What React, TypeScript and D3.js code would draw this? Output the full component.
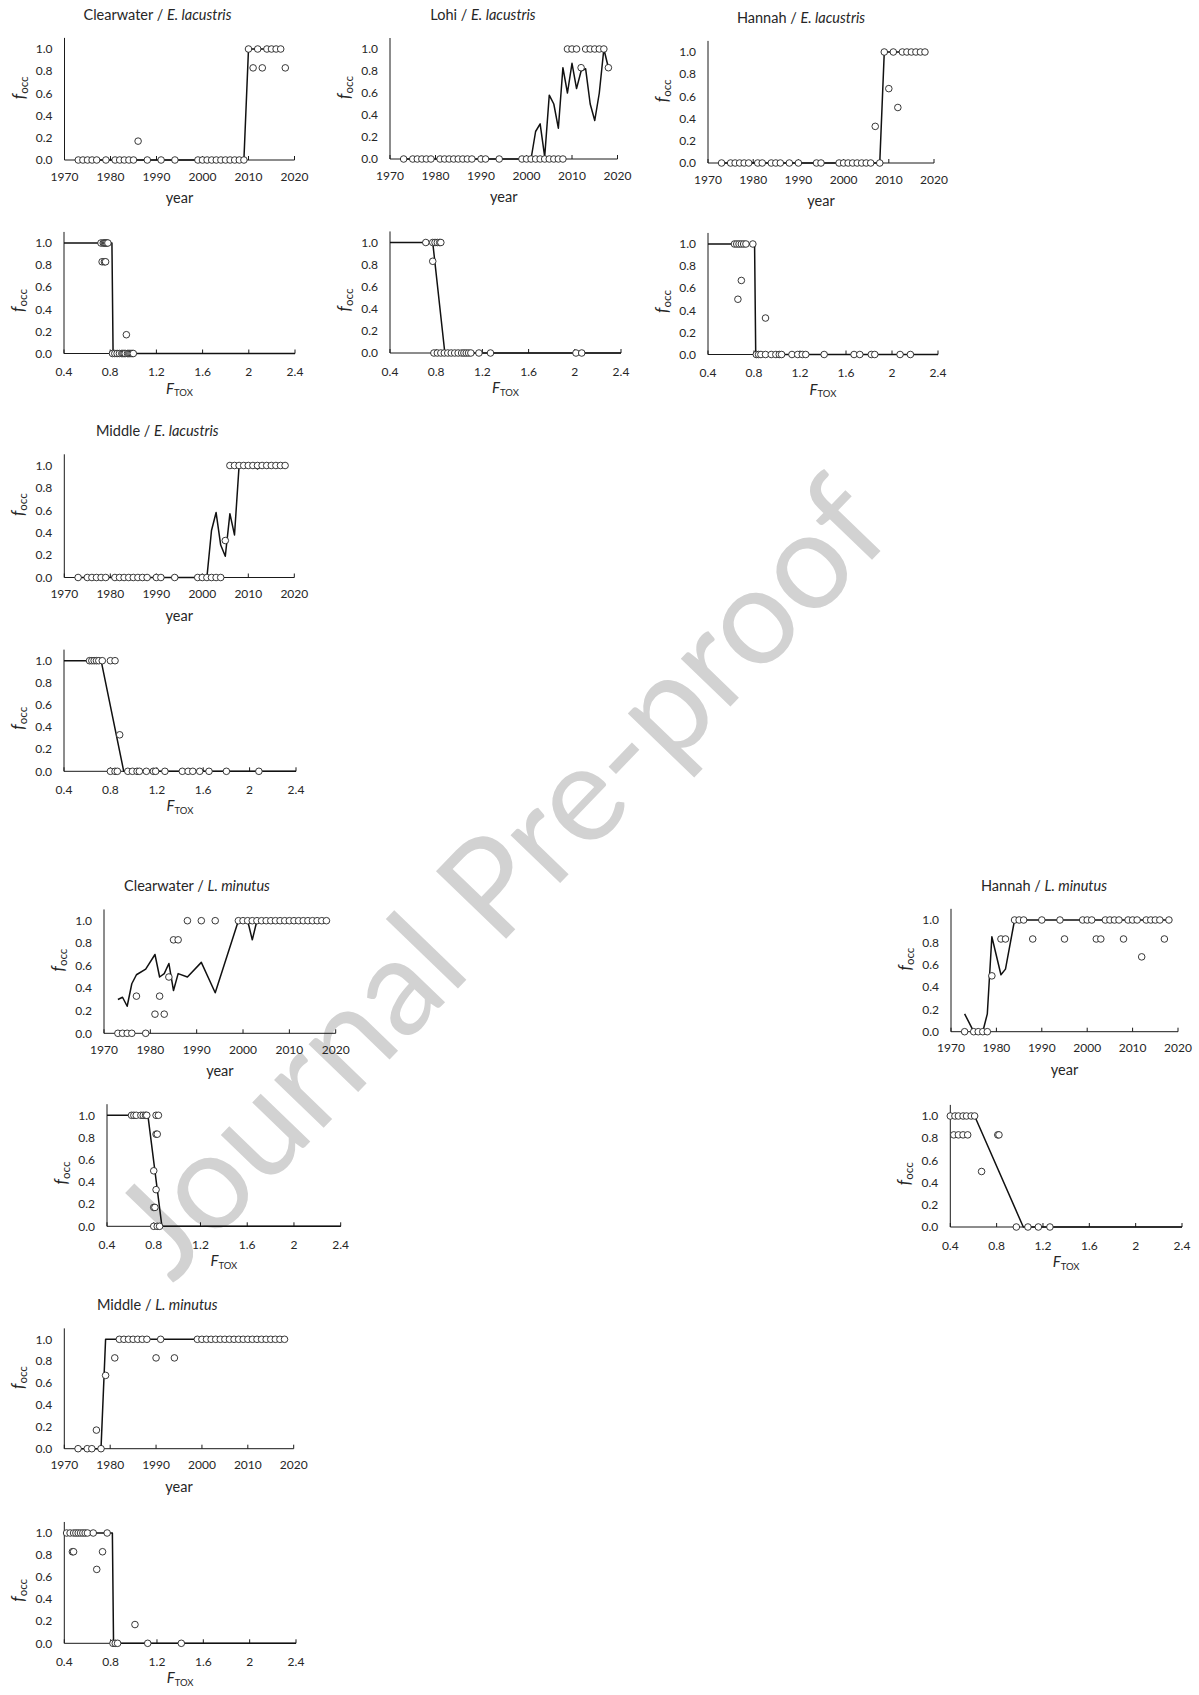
import React from "react";
import * as d3 from "d3";

// ---------- tick labels ----------
const yearTicks = [1970, 1980, 1990, 2000, 2010, 2020];
const ftoxTicks = [0.4, 0.8, 1.2, 1.6, 2, 2.4];
const foccTicks = [0, 0.2, 0.4, 0.6, 0.8, 1.0];

// ---------- Clearwater / E. lacustris ----------
const cwElYearObsX = [1973, 1974, 1975, 1976, 1977, 1979, 1981, 1982, 1983, 1984, 1985, 1986, 1988, 1991, 1994, 1999, 2000, 2001, 2002, 2003, 2004, 2005, 2006, 2007, 2008, 2009, 2010, 2011, 2012, 2013, 2014, 2015, 2016, 2017, 2018];
const cwElYearObsY = [0, 0, 0, 0, 0, 0, 0, 0, 0, 0, 0, 0.17, 0, 0, 0, 0, 0, 0, 0, 0, 0, 0, 0, 0, 0, 0, 1, 0.83, 1, 0.83, 1, 1, 1, 1, 0.83];
const cwElYearFitX = [1973, 2009, 2010, 2017];
const cwElYearFitY = [0, 0, 1, 1];
const cwElFtoxObsX = [0.72, 0.74, 0.75, 0.76, 0.77, 0.78, 0.73, 0.75, 0.76, 0.94, 0.82, 0.84, 0.86, 0.88, 0.9, 0.91, 0.92, 0.93, 0.95, 0.96, 0.97, 0.98, 0.99, 1.0];
const cwElFtoxObsY = [1, 1, 1, 1, 1, 1, 0.83, 0.83, 0.83, 0.17, 0, 0, 0, 0, 0, 0, 0, 0, 0, 0, 0, 0, 0, 0];
const cwElFtoxFitX = [0.4, 0.815, 0.825, 2.4];
const cwElFtoxFitY = [1, 1, 0, 0];

// ---------- Lohi / E. lacustris ----------
const lohiElYearObsX = [1973, 1975, 1976, 1977, 1978, 1979, 1981, 1982, 1983, 1984, 1985, 1986, 1987, 1988, 1990, 1991, 1994, 1999, 2000, 2001, 2002, 2003, 2004, 2005, 2006, 2007, 2008, 2009, 2010, 2011, 2012, 2013, 2014, 2015, 2016, 2017, 2018];
const lohiElYearObsY = [0, 0, 0, 0, 0, 0, 0, 0, 0, 0, 0, 0, 0, 0, 0, 0, 0, 0, 0, 0, 0, 0, 0, 0, 0, 0, 0, 1, 1, 1, 0.83, 1, 1, 1, 1, 1, 0.83];
const lohiElYearFitX = [1973, 2001, 2002, 2003, 2004, 2005, 2006, 2007, 2008, 2009, 2010, 2011, 2012, 2013, 2014, 2015, 2016, 2017, 2018];
const lohiElYearFitY = [0, 0, 0.25, 0.32, 0.02, 0.58, 0.5, 0.28, 0.83, 0.6, 0.87, 0.64, 0.8, 0.82, 0.5, 0.35, 0.6, 1.0, 0.83];
const lohiElFtoxObsX = [0.71, 0.77, 0.79, 0.81, 0.83, 0.84, 0.77, 0.78, 0.81, 0.84, 0.87, 0.9, 0.93, 0.96, 0.99, 1.02, 1.04, 1.06, 1.08, 1.1, 1.17, 1.27, 2.01, 2.06];
const lohiElFtoxObsY = [1, 1, 1, 1, 1, 1, 0.83, 0, 0, 0, 0, 0, 0, 0, 0, 0, 0, 0, 0, 0, 0, 0, 0, 0];
const lohiElFtoxFitX = [0.4, 0.77, 0.875, 2.4];
const lohiElFtoxFitY = [1, 1, 0, 0];

// ---------- Hannah / E. lacustris ----------
const hanElYearObsX = [1973, 1975, 1976, 1977, 1978, 1979, 1981, 1982, 1984, 1985, 1986, 1988, 1990, 1994, 1995, 1999, 2000, 2001, 2002, 2003, 2004, 2005, 2006, 2007, 2008, 2009, 2010, 2011, 2012, 2013, 2014, 2015, 2016, 2017, 2018];
const hanElYearObsY = [0, 0, 0, 0, 0, 0, 0, 0, 0, 0, 0, 0, 0, 0, 0, 0, 0, 0, 0, 0, 0, 0, 0, 0.33, 0, 1, 0.67, 1, 0.5, 1, 1, 1, 1, 1, 1];
const hanElYearFitX = [1973, 2008, 2009, 2018];
const hanElYearFitY = [0, 0, 1, 1];
const hanElFtoxObsX = [0.63, 0.65, 0.67, 0.69, 0.71, 0.73, 0.79, 0.69, 0.66, 0.9, 0.82, 0.84, 0.86, 0.9, 0.95, 0.99, 1.02, 1.04, 1.13, 1.18, 1.22, 1.25, 1.41, 1.67, 1.72, 1.82, 1.85, 2.07, 2.16];
const hanElFtoxObsY = [1, 1, 1, 1, 1, 1, 1, 0.67, 0.5, 0.33, 0, 0, 0, 0, 0, 0, 0, 0, 0, 0, 0, 0, 0, 0, 0, 0, 0, 0, 0];
const hanElFtoxFitX = [0.4, 0.805, 0.815, 2.4];
const hanElFtoxFitY = [1, 1, 0, 0];

// ---------- Middle / E. lacustris ----------
const midElYearObsX = [1973, 1975, 1976, 1977, 1978, 1979, 1981, 1982, 1983, 1984, 1985, 1986, 1987, 1988, 1990, 1991, 1994, 1999, 2000, 2001, 2002, 2003, 2004, 2005, 2006, 2007, 2008, 2009, 2010, 2011, 2012, 2013, 2014, 2015, 2016, 2017, 2018];
const midElYearObsY = [0, 0, 0, 0, 0, 0, 0, 0, 0, 0, 0, 0, 0, 0, 0, 0, 0, 0, 0, 0, 0, 0, 0, 0.33, 1, 1, 1, 1, 1, 1, 1, 1, 1, 1, 1, 1, 1];
const midElYearFitX = [1973, 2001, 2002, 2003, 2004, 2005, 2006, 2007, 2008, 2011, 2012, 2013, 2018];
const midElYearFitY = [0, 0, 0.42, 0.58, 0.29, 0.19, 0.57, 0.38, 1, 1, 0.97, 1, 1];
const midElFtoxObsX = [0.62, 0.64, 0.66, 0.68, 0.7, 0.73, 0.8, 0.84, 0.88, 0.8, 0.84, 0.86, 0.95, 0.99, 1.03, 1.05, 1.11, 1.17, 1.19, 1.27, 1.42, 1.47, 1.51, 1.57, 1.65, 1.8, 2.08];
const midElFtoxObsY = [1, 1, 1, 1, 1, 1, 1, 1, 0.33, 0, 0, 0, 0, 0, 0, 0, 0, 0, 0, 0, 0, 0, 0, 0, 0, 0, 0];
const midElFtoxFitX = [0.4, 0.72, 0.915, 2.4];
const midElFtoxFitY = [1, 1, 0, 0];

// ---------- Clearwater / L. minutus ----------
const cwLmYearObsX = [1973, 1974, 1975, 1976, 1977, 1979, 1981, 1982, 1983, 1984, 1985, 1986, 1988, 1991, 1994, 1999, 2000, 2001, 2002, 2003, 2004, 2005, 2006, 2007, 2008, 2009, 2010, 2011, 2012, 2013, 2014, 2015, 2016, 2017, 2018];
const cwLmYearObsY = [0, 0, 0, 0, 0.33, 0, 0.17, 0.33, 0.17, 0.5, 0.83, 0.83, 1, 1, 1, 1, 1, 1, 1, 1, 1, 1, 1, 1, 1, 1, 1, 1, 1, 1, 1, 1, 1, 1, 1];
const cwLmYearFitX = [1973, 1974, 1975, 1976, 1977, 1979, 1981, 1982, 1983, 1984, 1985, 1986, 1988, 1991, 1994, 1999, 2001, 2002, 2003, 2018];
const cwLmYearFitY = [0.3, 0.32, 0.24, 0.44, 0.52, 0.57, 0.7, 0.5, 0.53, 0.62, 0.38, 0.53, 0.5, 0.63, 0.36, 1, 1, 0.83, 1, 1];
const cwLmFtoxObsX = [0.61, 0.63, 0.65, 0.69, 0.71, 0.73, 0.74, 0.82, 0.84, 0.82, 0.83, 0.8, 0.82, 0.8, 0.81, 0.8, 0.83, 0.85];
const cwLmFtoxObsY = [1, 1, 1, 1, 1, 1, 1, 1, 1, 0.83, 0.83, 0.5, 0.33, 0.17, 0.17, 0, 0, 0];
const cwLmFtoxFitX = [0.4, 0.75, 0.87, 2.4];
const cwLmFtoxFitY = [1, 1, 0, 0];

// ---------- Hannah / L. minutus ----------
const hanLmYearObsX = [1973, 1975, 1976, 1977, 1978, 1979, 1981, 1982, 1984, 1985, 1986, 1988, 1990, 1994, 1995, 1999, 2000, 2001, 2002, 2003, 2004, 2005, 2006, 2007, 2008, 2009, 2010, 2011, 2012, 2013, 2014, 2015, 2016, 2017, 2018];
const hanLmYearObsY = [0, 0, 0, 0, 0, 0.5, 0.83, 0.83, 1, 1, 1, 0.83, 1, 1, 0.83, 1, 1, 1, 0.83, 0.83, 1, 1, 1, 1, 0.83, 1, 1, 1, 0.67, 1, 1, 1, 1, 0.83, 1];
const hanLmYearFitX = [1973, 1975, 1977, 1978, 1979, 1981, 1982, 1984, 2018];
const hanLmYearFitY = [0.16, 0, 0, 0.16, 0.85, 0.51, 0.56, 1, 1];
const hanLmFtoxObsX = [0.4, 0.44, 0.47, 0.51, 0.54, 0.58, 0.61, 0.43, 0.47, 0.51, 0.55, 0.81, 0.82, 0.67, 0.97, 1.07, 1.16, 1.26];
const hanLmFtoxObsY = [1, 1, 1, 1, 1, 1, 1, 0.83, 0.83, 0.83, 0.83, 0.83, 0.83, 0.5, 0, 0, 0, 0];
const hanLmFtoxFitX = [0.4, 0.61, 1.03, 2.4];
const hanLmFtoxFitY = [1, 1, 0, 0];

// ---------- Middle / L. minutus ----------
const midLmYearObsX = [1973, 1975, 1976, 1977, 1978, 1979, 1981, 1982, 1983, 1984, 1985, 1986, 1987, 1988, 1990, 1991, 1994, 1999, 2000, 2001, 2002, 2003, 2004, 2005, 2006, 2007, 2008, 2009, 2010, 2011, 2012, 2013, 2014, 2015, 2016, 2017, 2018];
const midLmYearObsY = [0, 0, 0, 0.17, 0, 0.67, 0.83, 1, 1, 1, 1, 1, 1, 1, 0.83, 1, 0.83, 1, 1, 1, 1, 1, 1, 1, 1, 1, 1, 1, 1, 1, 1, 1, 1, 1, 1, 1, 1];
const midLmYearFitX = [1973, 1978, 1979, 2018];
const midLmYearFitY = [0, 0, 1, 1];
const midLmFtoxObsX = [0.42, 0.45, 0.48, 0.5, 0.52, 0.54, 0.56, 0.58, 0.6, 0.65, 0.77, 0.47, 0.48, 0.73, 0.68, 1.01, 0.82, 0.84, 0.86, 1.12, 1.41];
const midLmFtoxObsY = [1, 1, 1, 1, 1, 1, 1, 1, 1, 1, 1, 0.83, 0.83, 0.83, 0.67, 0.17, 0, 0, 0, 0, 0];
const midLmFtoxFitX = [0.4, 0.815, 0.825, 2.4];
const midLmFtoxFitY = [1, 1, 0, 0];

// ---------- layout (pixel boxes) ----------
type Spec = {
  kind: "year" | "ftox";
  lake?: string;
  species?: string;
  left: number; right: number; zero: number; one: number;
  ox: number[]; oy: number[]; fx: number[]; fy: number[];
};

const panels: Spec[] = [
  { kind: "year", lake: "Clearwater", species: "E. lacustris", left: 64.5, right: 294.5, zero: 160, one: 49, ox: cwElYearObsX, oy: cwElYearObsY, fx: cwElYearFitX, fy: cwElYearFitY },
  { kind: "year", lake: "Lohi", species: "E. lacustris", left: 390, right: 617.5, zero: 159, one: 49, ox: lohiElYearObsX, oy: lohiElYearObsY, fx: lohiElYearFitX, fy: lohiElYearFitY },
  { kind: "year", lake: "Hannah", species: "E. lacustris", left: 708, right: 934, zero: 163, one: 52, ox: hanElYearObsX, oy: hanElYearObsY, fx: hanElYearFitX, fy: hanElYearFitY },
  { kind: "ftox", left: 64, right: 295, zero: 353.5, one: 243, ox: cwElFtoxObsX, oy: cwElFtoxObsY, fx: cwElFtoxFitX, fy: cwElFtoxFitY },
  { kind: "ftox", left: 390, right: 621, zero: 353, one: 242.5, ox: lohiElFtoxObsX, oy: lohiElFtoxObsY, fx: lohiElFtoxFitX, fy: lohiElFtoxFitY },
  { kind: "ftox", left: 708, right: 938, zero: 354.5, one: 244, ox: hanElFtoxObsX, oy: hanElFtoxObsY, fx: hanElFtoxFitX, fy: hanElFtoxFitY },
  { kind: "year", lake: "Middle", species: "E. lacustris", left: 64.3, right: 294.3, zero: 577.5, one: 465.5, ox: midElYearObsX, oy: midElYearObsY, fx: midElYearFitX, fy: midElYearFitY },
  { kind: "ftox", left: 64, right: 296, zero: 771.3, one: 660.7, ox: midElFtoxObsX, oy: midElFtoxObsY, fx: midElFtoxFitX, fy: midElFtoxFitY },
  { kind: "year", lake: "Clearwater", species: "L. minutus", left: 104, right: 335.7, zero: 1033.3, one: 920.7, ox: cwLmYearObsX, oy: cwLmYearObsY, fx: cwLmYearFitX, fy: cwLmYearFitY },
  { kind: "ftox", left: 107, right: 340.7, zero: 1226.3, one: 1115.3, ox: cwLmFtoxObsX, oy: cwLmFtoxObsY, fx: cwLmFtoxFitX, fy: cwLmFtoxFitY },
  { kind: "year", lake: "Hannah", species: "L. minutus", left: 951, right: 1178, zero: 1031.7, one: 920, ox: hanLmYearObsX, oy: hanLmYearObsY, fx: hanLmYearFitX, fy: hanLmYearFitY },
  { kind: "ftox", left: 950.3, right: 1182, zero: 1227, one: 1116, ox: hanLmFtoxObsX, oy: hanLmFtoxObsY, fx: hanLmFtoxFitX, fy: hanLmFtoxFitY },
  { kind: "year", lake: "Middle", species: "L. minutus", left: 64.3, right: 293.7, zero: 1448.7, one: 1339.3, ox: midLmYearObsX, oy: midLmYearObsY, fx: midLmYearFitX, fy: midLmYearFitY },
  { kind: "ftox", left: 64.3, right: 296, zero: 1643.3, one: 1533, ox: midLmFtoxObsX, oy: midLmFtoxObsY, fx: midLmFtoxFitX, fy: midLmFtoxFitY },
];

const FONT = "Lato, 'Open Sans', Arial, sans-serif";
const AXIS = "#1a1a1a";
const TXT = "#262626";

function Panel({ s }: { s: Spec }) {
  const isYear = s.kind === "year";
  const x = d3.scaleLinear().domain(isYear ? [1970, 2020] : [0.4, 2.4]).range([s.left, s.right]);
  const y = d3.scaleLinear().domain([0, 1]).range([s.zero, s.one]);
  const xt = isYear ? yearTicks : ftoxTicks;
  const fmtX = isYear ? d3.format("d") : d3.format("~g");
  const fmtY = d3.format(".1f");
  const fit = s.fx.map((v, i) => [v, s.fy[i]] as [number, number]);
  const obs = s.ox.map((v, i) => [v, s.oy[i]] as [number, number]);
  const line = d3.line<[number, number]>().x((d) => x(d[0])).y((d) => y(d[1]));
  const labFrac = isYear ? 0.65 : 0.48;
  const labY = s.zero - labFrac * (s.zero - s.one);
  const labX = s.left - 40;
  const xLabOff = isYear ? 16.5 : 18.3;
  return (
    <g fontFamily={FONT}>
      {s.lake && (
        <text x={s.left + 93} y={s.one - 29.5} textAnchor="middle" fontSize={14.5} fill={TXT}>
          {s.lake} / <tspan fontStyle="italic">{s.species}</tspan>
        </text>
      )}
      <line x1={x.range()[0]} x2={x.range()[1]} y1={y(0)} y2={y(0)} stroke={AXIS} strokeWidth={1} />
      <line x1={x.range()[0]} x2={x.range()[0]} y1={y(0)} y2={y(1.1)} stroke={AXIS} strokeWidth={1} />
      {xt.map((t) => (
        <g key={t}>
          <line x1={x(t)} x2={x(t)} y1={y(0)} y2={y(0) - 4} stroke={AXIS} strokeWidth={1} />
          <text x={x(t)} y={y(0) + xLabOff} dy="0.35em" textAnchor="middle" fontSize={12} fill={TXT}>
            {fmtX(t)}
          </text>
        </g>
      ))}
      {foccTicks.map((t) => (
        <text key={t} x={s.left - 12} y={y(t)} dy="0.35em" textAnchor="end" fontSize={12} fill={TXT}>
          {fmtY(t)}
        </text>
      ))}
      <text transform={`translate(${labX},${labY}) rotate(-90)`} textAnchor="middle" fill={TXT}>
        <tspan fontStyle="italic" fontSize={17}>f</tspan>
        <tspan fontSize={11.5} dy={3}>occ</tspan>
      </text>
      {isYear ? (
        <text x={(s.left + s.right) / 2} y={s.zero + 43} textAnchor="middle" fontSize={14.5} fill={TXT}>
          year
        </text>
      ) : (
        <text x={(s.left + s.right) / 2} y={s.zero + 40} textAnchor="middle" fill={TXT}>
          <tspan fontStyle="italic" fontSize={15}>F</tspan>
          <tspan fontSize={9.5} dy={2.5}>TOX</tspan>
        </text>
      )}
      <path d={line(fit) || ""} fill="none" stroke="#111" strokeWidth={1.5} strokeLinejoin="round" />
      {obs.map((d, i) => (
        <circle key={i} cx={x(d[0])} cy={y(d[1])} r={3.3} fill="#fff" stroke="#222" strokeWidth={0.9} />
      ))}
    </g>
  );
}

export default function App() {
  return (
    <svg
      width={1199}
      height={1695}
      style={{ position: "absolute", left: 0, top: 0, background: "#fff" }}
    >
      <rect x={0} y={0} width={1199} height={1695} fill="#fff" />
      <text
        transform="translate(534,910) rotate(-46)"
        textAnchor="middle"
        fontFamily={FONT}
        fontSize={136}
        fill="#d2d2d2"
      >
        Journal Pre-proof
      </text>
      {panels.map((s, i) => (
        <Panel key={i} s={s} />
      ))}
    </svg>
  );
}
